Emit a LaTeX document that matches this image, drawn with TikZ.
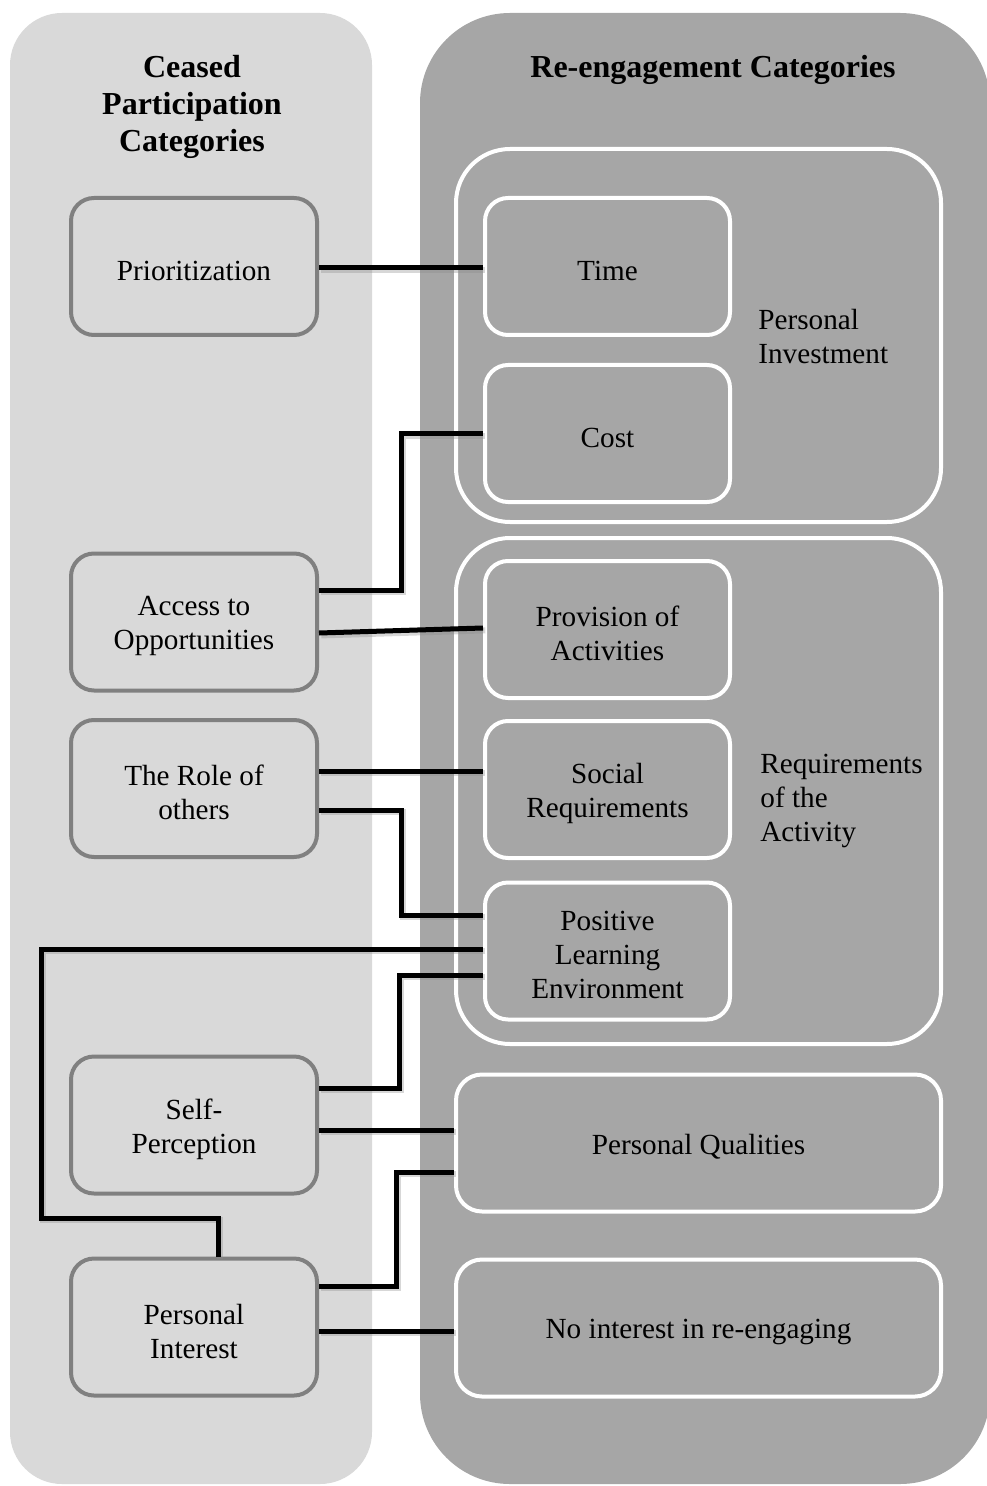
\documentclass[tikz,border=0pt]{standalone}
\usepackage{fontspec}
\setmainfont{Liberation Serif}
\usetikzlibrary{calc}
\definecolor{leftfill}{HTML}{D9D9D9}
\definecolor{rightfill}{HTML}{A6A6A6}
\definecolor{edgegray}{HTML}{808080}
\begin{document}
\begin{tikzpicture}[x=0.5pt,y=-0.5pt,
  txt/.style={font=\fontsize{14.6}{17}\selectfont},
  boxtext/.style={txt, align=center, inner sep=0pt, yshift=-2pt},
  head/.style={font=\fontsize{16}{18.5}\selectfont\bfseries, align=center, inner sep=0pt},
  cease/.style={draw=edgegray, line width=2pt, fill=leftfill, rounded corners=11.5pt,
    minimum width=123pt, minimum height=68.5pt, inner sep=0pt,
    label={[boxtext]center:#1}},
  reeng/.style={draw=white, line width=2pt, fill=rightfill, rounded corners=11.5pt,
    minimum width=122.5pt, minimum height=68.5pt, inner sep=0pt,
    label={[boxtext]center:#1}},
  widebox/.style={reeng={#1}, minimum width=242.5pt, rounded corners=13pt},
  groupbox/.style={draw=white, line width=2pt, rounded corners=27pt, inner sep=0pt},
  grouplabel/.style={txt, align=left, anchor=west, inner sep=0pt},
  wire/.style={line width=2.5pt, black, line join=miter,
    preaction={draw=black!45, line width=3pt, opacity=.35,
      transform canvas={xshift=1.2pt,yshift=-1.2pt}}}]

\useasboundingbox (0,0) rectangle (986,1486);

% panels
\fill[leftfill, rounded corners=26pt] (10,13) rectangle (372,1484);
\fill[rightfill, rounded corners=45pt] (420,13) rectangle (990,1484);

% headers
\node[head] (hcease) at (192,107) {Ceased\\Participation\\Categories};
\node[head] (hre) at (713,70) {Re-engagement Categories};

% re-engagement groups
\node[groupbox, minimum width=242.5pt, minimum height=186.5pt] (ginv) at (698.5,335.5) {};
\node[groupbox, minimum width=242.5pt, minimum height=253pt] (greq) at (698.5,791) {};
\node[grouplabel] (linv) at (758,337) {Personal\\Investment};
\node[grouplabel] (lreq) at (760,801) {Requirements\\of the\\Activity};

% ceased participation categories
\node[cease={Prioritization}]           (prio)   at (194,266.5) {};
\node[cease={Access to\\Opportunities}] (access) at (194,622) {};
\node[cease={The Role of\\others}]      (role)   at (194,788.5) {};
\node[cease={Self-\\Perception}]        (self)   at (194,1125) {};
\node[cease={Personal\\Interest}]       (pint)   at (194,1327) {};

% re-engagement categories
\node[reeng={Time}]                              (time)   at (607.5,266.5) {};
\node[reeng={Cost}]                              (cost)   at (607.5,433.5) {};
\node[reeng={Provision of\\Activities}]          (prov)   at (607.5,629.5) {};
\node[reeng={Social\\Requirements}]              (social) at (607.5,789.5) {};
\node[reeng={Positive\\Learning\\Environment}]   (ple)    at (607.5,951) {};
\node[widebox={Personal Qualities}]              (pq)     at (698.5,1143) {};
\node[widebox={No interest in re-engaging}]      (noint)  at (698.5,1328) {};

% connectors
\draw[wire] ($(prio.east)+(0,1.5)$) coordinate (c1) -- (c1 -| time.west);
\draw[wire] ($(access.east)+(0,-32)$) -- ++(82,0) |- (cost.west);
\draw[wire] ($(access.east)+(0,11)$) -- ($(prov.west)+(0,-1.5)$);
\draw[wire] ($(role.east)+(0,-17.5)$) coordinate (c4) -- (c4 -| social.west);
\draw[wire] ($(role.east)+(0,21.5)$) -- ++(82,0) |- ($(ple.west)+(0,-36)$);
\draw[wire] ($(ple.west)+(0,-2)$) -- ++(-442,0) -- ++(0,269) -| (pint.north -| 218,0);
\draw[wire] ($(ple.west)+(0,24)$) -- ++(-84,0) |- ($(self.east)+(0,-37)$);
\draw[wire] ($(self.east)+(0,5)$) coordinate (c8) -- (c8 -| pq.west);
\draw[wire] ($(pint.east)+(0,-41)$) -- ++(77,0) |- ($(pq.west)+(0,29)$);
\draw[wire] ($(pint.east)+(0,4)$) coordinate (c10) -- (c10 -| noint.west);
\end{tikzpicture}
\end{document}
